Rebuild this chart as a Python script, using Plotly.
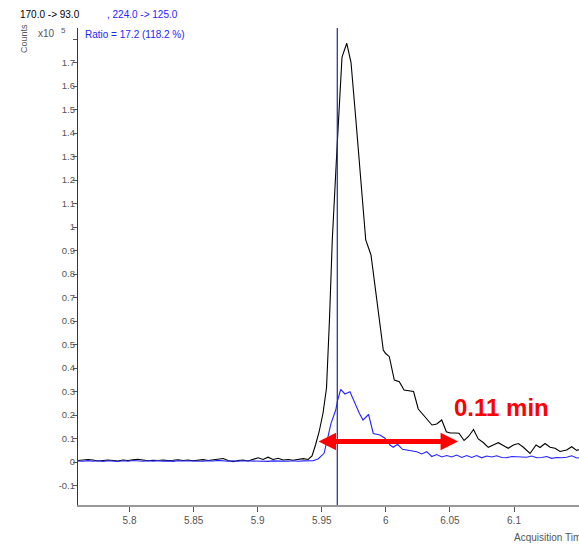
import plotly.graph_objects as go

# Quantifier transition 170.0 -> 93.0 (counts, x10^5)
black_time = [
    5.7598, 5.7637, 5.7676, 5.7715, 5.7754, 5.7793, 5.7832, 5.7871, 5.7910, 5.7949,
    5.7988, 5.8027, 5.8066, 5.8105, 5.8144, 5.8184, 5.8223, 5.8262, 5.8301, 5.8340,
    5.8379, 5.8418, 5.8457, 5.8496, 5.8535, 5.8574, 5.8613, 5.8652, 5.8691, 5.8730,
    5.8769, 5.8808, 5.8847, 5.8886, 5.8925, 5.8964, 5.9003, 5.9042, 5.9081, 5.9120,
    5.9159, 5.9198, 5.9238, 5.9277, 5.9316, 5.9355, 5.9394,
    5.9424, 5.9451, 5.9479, 5.9510, 5.9537, 5.9560, 5.9582, 5.9619, 5.9658, 5.9695,
    5.9728, 5.9763, 5.9802, 5.9843, 5.9884, 5.9915, 5.9947, 5.9980, 5.9997, 6.0027,
    6.0066, 6.0105, 6.0142, 6.0181, 6.0216, 6.0253, 6.0306, 6.0360, 6.0397, 6.0436,
    6.0472, 6.0501, 6.0536, 6.0571, 6.0610, 6.0645, 6.0684, 6.0721, 6.0760, 6.0799,
    6.0838, 6.0877, 6.0916, 6.0955, 6.0995, 6.1034, 6.1073, 6.1125, 6.1172, 6.1203,
    6.1242, 6.1281, 6.1320, 6.1359, 6.1411, 6.1450, 6.1489, 6.1523,
]
black_counts = [
    0.0064, 0.0085, 0.0106, 0.0085, 0.0043, 0.0064, 0.0085, 0.0064, 0.0043, 0.0085,
    0.0064, 0.0094, 0.0119, 0.0085, 0.0051, 0.0077, 0.0064, 0.0085, 0.0060, 0.0072,
    0.0094, 0.0064, 0.0085, 0.0051, 0.0077, 0.0102, 0.0064, 0.0085, 0.0106, 0.0149,
    0.0064, 0.0009, 0.0064, 0.0085, 0.0043, 0.0106, 0.0179, 0.0106, 0.0204, 0.0106,
    0.0157, 0.0085, 0.0106, 0.0077, 0.0119, 0.0145, 0.0106,
    0.0255, 0.0723, 0.1277, 0.2085, 0.3149, 0.6043, 0.9447, 1.3362, 1.7234, 1.7817,
    1.7009, 1.4766, 1.2085, 0.9447, 0.8809, 0.7447, 0.6128, 0.4766, 0.4626, 0.4481,
    0.3489, 0.3417, 0.3064, 0.3043, 0.3000, 0.2255, 0.1894, 0.1574, 0.1617, 0.1787,
    0.1289, 0.1234, 0.1234, 0.1221, 0.0915, 0.1085, 0.1383, 0.0979, 0.0830, 0.0626,
    0.0723, 0.0821, 0.0702, 0.0583, 0.0723, 0.0787, 0.0626, 0.0362, 0.0723, 0.0617,
    0.0787, 0.0626, 0.0583, 0.0447, 0.0511, 0.0651, 0.0489, 0.0553,
]

# Qualifier transition 224.0 -> 125.0 (counts, x10^5)
blue_time = [
    5.7598, 5.7637, 5.7676, 5.7715, 5.7754, 5.7793, 5.7832, 5.7871, 5.7910, 5.7949,
    5.7988, 5.8027, 5.8066, 5.8105, 5.8144, 5.8184, 5.8223, 5.8262, 5.8301, 5.8340,
    5.8379, 5.8418, 5.8457, 5.8496, 5.8535, 5.8574, 5.8613, 5.8652, 5.8691, 5.8730,
    5.8769, 5.8808, 5.8847, 5.8886, 5.8925, 5.8964, 5.9003, 5.9042, 5.9081, 5.9120,
    5.9159, 5.9198, 5.9238, 5.9277, 5.9316, 5.9355, 5.9394, 5.9432,
    5.9471, 5.9494, 5.9518, 5.9543, 5.9572, 5.9609, 5.9624, 5.9648, 5.9681, 5.9720,
    5.9759, 5.9793, 5.9822, 5.9865, 5.9902, 5.9954, 5.9993, 6.0032, 6.0058, 6.0091,
    6.0130, 6.0189, 6.0241, 6.0280, 6.0319, 6.0358, 6.0397, 6.0436, 6.0475, 6.0514,
    6.0553, 6.0592, 6.0631, 6.0670, 6.0709, 6.0748, 6.0787, 6.0826, 6.0865, 6.0904,
    6.0943, 6.0982, 6.1021, 6.1060, 6.1099, 6.1138, 6.1177, 6.1216, 6.1255, 6.1294,
    6.1333, 6.1372, 6.1411, 6.1450, 6.1489, 6.1523,
]
blue_counts = [
    0.0043, 0.0030, 0.0060, 0.0034, 0.0051, 0.0026, 0.0055, 0.0043, 0.0021, 0.0051,
    0.0034, 0.0064, 0.0043, 0.0030, 0.0055, 0.0038, 0.0060, 0.0034, 0.0047, 0.0026,
    0.0051, 0.0043, 0.0064, 0.0034, 0.0047, 0.0030, 0.0060, 0.0043, 0.0068, 0.0051,
    0.0030, 0.0055, 0.0034, 0.0051, 0.0043, 0.0064, 0.0034, 0.0051, 0.0026, 0.0047,
    0.0038, 0.0060, 0.0034, 0.0051, 0.0030, 0.0047, 0.0043, 0.0055,
    0.0128, 0.0234, 0.0370, 0.0936, 0.1647, 0.2213, 0.2638, 0.3094, 0.2894, 0.2991,
    0.2498, 0.2072, 0.1787, 0.2021, 0.1213, 0.1149, 0.1009, 0.0723, 0.0626, 0.0753,
    0.0540, 0.0481, 0.0438, 0.0340, 0.0438, 0.0234, 0.0319, 0.0213, 0.0277, 0.0213,
    0.0298, 0.0191, 0.0277, 0.0191, 0.0277, 0.0179, 0.0255, 0.0213, 0.0264, 0.0191,
    0.0179, 0.0234, 0.0213, 0.0221, 0.0200, 0.0255, 0.0179, 0.0191, 0.0234, 0.0157,
    0.0191, 0.0179, 0.0200, 0.0264, 0.0170, 0.0191,
]

x_ticks = [5.8, 5.85, 5.9, 5.95, 6.0, 6.05, 6.1]
x_tick_labels = ["5.8", "5.85", "5.9", "5.95", "6", "6.05", "6.1"]
y_ticks = [-0.1, 0, 0.1, 0.2, 0.3, 0.4, 0.5, 0.6, 0.7, 0.8, 0.9, 1.0,
           1.1, 1.2, 1.3, 1.4, 1.5, 1.6, 1.7, 1.8]
y_tick_labels = ["-0.1", "0", "0.1", "0.2", "0.3", "0.4", "0.5", "0.6", "0.7", "0.8",
                 "0.9", "1", "1.1", "1.2", "1.3", "1.4", "1.5", "1.6", "1.7", ""]

cursor_time = 5.9621
arrow_start = 5.9475
peak_width_min = 0.11
arrow_level = 0.087

FONT = "Liberation Sans, Arial, sans-serif"
GRAY = "#555555"
BLUE = "#2424ff"

fig = go.Figure()
fig.add_trace(go.Scatter(x=black_time, y=black_counts, mode="lines",
                         line=dict(color="black", width=1.1), hoverinfo="skip"))
fig.add_trace(go.Scatter(x=blue_time, y=blue_counts, mode="lines",
                         line=dict(color=BLUE, width=1.1), hoverinfo="skip"))

# retention-time cursor
fig.add_shape(type="line", xref="x", yref="paper", x0=cursor_time, x1=cursor_time,
              y0=0, y1=1, line=dict(color="#1f2a99", width=1.2))

# double-headed width arrow
fig.add_annotation(x=arrow_start, y=arrow_level,
                   ax=arrow_start + peak_width_min, ay=arrow_level,
                   xref="x", yref="y", axref="x", ayref="y", text="",
                   showarrow=True, arrowside="end+start", arrowcolor="#ff0000",
                   arrowwidth=5, arrowhead=2, arrowsize=0.7,
                   startarrowhead=2, startarrowsize=0.7, standoff=0, startstandoff=0)
fig.add_annotation(x=6.0904, y=0.234, xref="x", yref="y",
                   text=f"<b>{peak_width_min:.2f} min</b>", showarrow=False,
                   font=dict(family=FONT, size=24, color="#ff0000"))

texts = [
    dict(text="170.0 -> 93.0", x=-0.1198, y=1.0273, xanchor="left",
         font=dict(family=FONT, size=10, color="black")),
    dict(text=", 224.0 -> 125.0", x=0.0539, y=1.0273, xanchor="left",
         font=dict(family=FONT, size=10, color=BLUE)),
    dict(text="Ratio = 17.2 (118.2 %)", x=0.0106, y=0.9868, xanchor="left",
         font=dict(family=FONT, size=10, color=BLUE)),
    dict(text="x10", x=-0.0838, y=0.9895, xanchor="left",
         font=dict(family=FONT, size=10, color=GRAY)),
    dict(text="5", x=-0.0293, y=0.9958, xanchor="center",
         font=dict(family=FONT, size=8, color=GRAY)),
    dict(text="Counts", x=-0.1078, y=0.979, xanchor="center", textangle=-90,
         font=dict(family=FONT, size=9, color=GRAY)),
    dict(text="Acquisition Time (min)", x=0.8657, y=-0.0686, xanchor="left",
         font=dict(family=FONT, size=10, color=GRAY)),
]
for t in texts:
    fig.add_annotation(xref="paper", yref="paper", yanchor="middle",
                       showarrow=False, **t)

fig.update_layout(
    width=579, height=546,
    margin=dict(l=78, r=0, t=28, b=41),
    paper_bgcolor="white", plot_bgcolor="white",
    showlegend=False,
    font=dict(family=FONT, size=10, color=GRAY),
    xaxis=dict(range=[5.7598, 6.1507], tickvals=x_ticks, ticktext=x_tick_labels,
               showgrid=False, zeroline=False, showline=True, linecolor="#999999",
               linewidth=1.5, ticks="outside", ticklen=5, tickcolor="#555555",
               tickfont=dict(family=FONT, size=10, color=GRAY)),
    yaxis=dict(range=[-0.183, 1.8468], tickvals=y_ticks, ticktext=y_tick_labels,
               showgrid=False, zeroline=False, showline=True, linecolor="#2b3648",
               linewidth=1.2, ticks="outside", ticklen=4, tickcolor="#555555",
               ticklabelstandoff=-4,
               tickfont=dict(family=FONT, size=9.5, color=GRAY)),
)

fig.write_html("out.html")
